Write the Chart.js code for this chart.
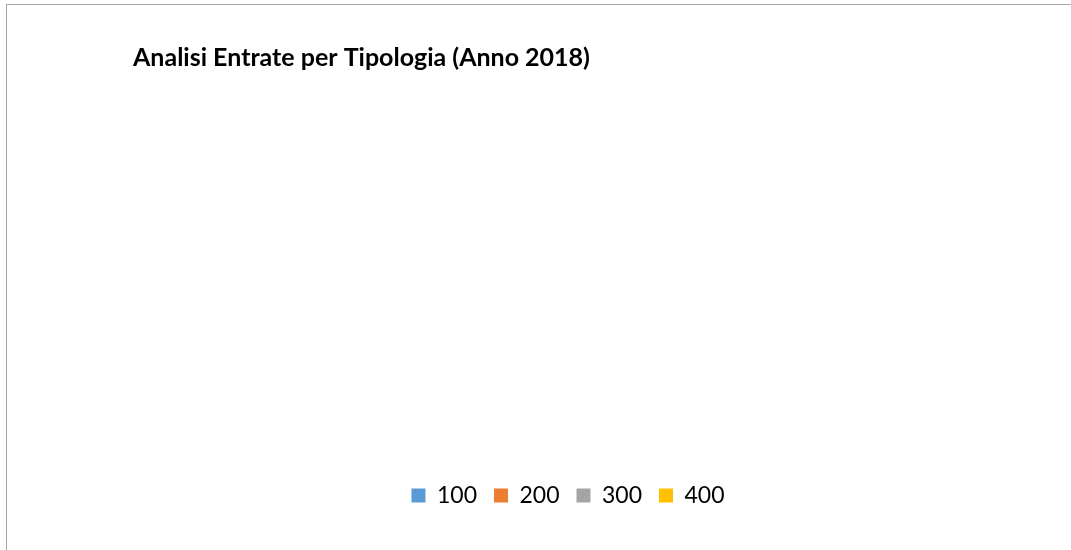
<!DOCTYPE html>
<html lang="it">
<head>
<meta charset="UTF-8">
<title>Analisi Entrate per Tipologia</title>
<script src="https://cdn.jsdelivr.net/npm/chart.js"></script>
<style>
  html, body { margin: 0; padding: 0; background: #fff; overflow: hidden; }
  #box {
    position: absolute; left: 6px; top: 4px; width: 1070px; height: 550px;
    border-top: 1px solid #a6a6a6; border-left: 1px solid #a6a6a6;
  }
  #wrap { position: absolute; left: 0; top: 0; width: 1064px; height: 545px; }
</style>
</head>
<body>
<div id="box"><div id="wrap"><canvas id="c"></canvas></div></div>
<script>
  // tipologie (nessun valore visibile nel grafico)
  var categories = ['100', '200', '300', '400'];
  var values = [0, 0, 0, 0];
  var colors = ['#5b9bd5', '#ed7d31', '#a5a5a5', '#ffc000'];

  new Chart(document.getElementById('c'), {
    type: 'pie',
    data: {
      labels: categories,
      datasets: [{ data: values, backgroundColor: colors, borderWidth: 0 }]
    },
    options: {
      responsive: true,
      maintainAspectRatio: false,
      animation: false,
      layout: { padding: { left: 126, right: 68, top: 0, bottom: 33 } },
      plugins: {
        title: {
          display: true,
          text: 'Analisi Entrate per Tipologia (Anno 2018)',
          align: 'start',
          color: '#000',
          font: { family: 'Lato', size: 25, weight: 'bold' },
          padding: { top: 38, bottom: 10 }
        },
        legend: {
          position: 'bottom',
          labels: {
            color: '#000',
            boxWidth: 14,
            boxHeight: 14,
            padding: 17,
            font: { family: 'Lato', size: 23 }
          }
        },
        tooltip: { enabled: false }
      }
    }
  });
</script>
</body>
</html>
